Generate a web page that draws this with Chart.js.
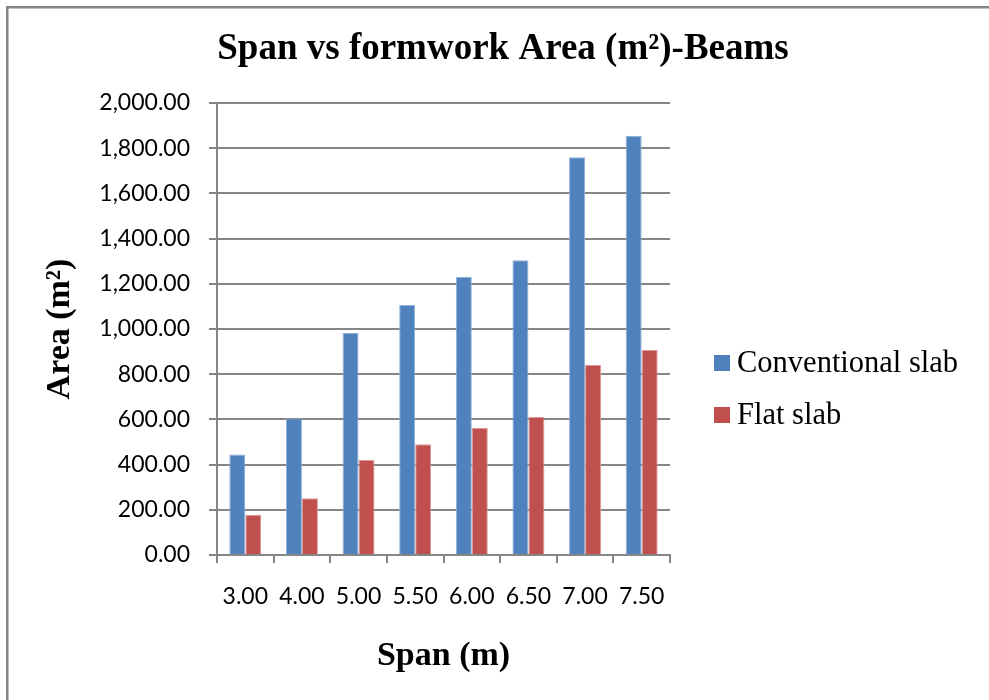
<!DOCTYPE html>
<html>
<head>
<meta charset="utf-8">
<title>Span vs formwork Area (m²)-Beams</title>
<script src="https://cdn.jsdelivr.net/npm/chart.js@4/dist/chart.umd.min.js"></script>
<style>
  html, body { margin: 0; padding: 0; background: #ffffff; }
  #wrap { position: relative; width: 989px; height: 700px; }
</style>
</head>
<body>
<div id="wrap"><canvas id="chart" width="989" height="700"></canvas></div>
<script>
// Spans (m) along the x axis
const spans = ['3.00', '4.00', '5.00', '5.50', '6.00', '6.50', '7.00', '7.50'];
// Formwork area of beams (m²) for each slab system
const conventionalSlab = [445, 604, 982, 1106, 1231, 1304, 1760, 1855];
const flatSlab = [178, 251, 422, 490, 562, 611, 841, 907];
const seriesNames = ['Conventional slab', 'Flat slab'];
const chartTitle = 'Span vs formwork Area (m²)-Beams';
const xTitle = 'Span (m)';
const yTitle = 'Area (m²)';
const yMin = 0, yMax = 2000, yStep = 200;

const GRID = '#868686';
const SERIF = '"Liberation Serif", "Times New Roman", serif';
const SANS = 'Lato, "Open Sans", sans-serif';

// Outer frame, heading and the legend at the right of the plot
const decorations = {
  id: 'decorations',
  beforeDraw(chart) {
    const ctx = chart.ctx;
    ctx.save();
    ctx.fillStyle = '#ffffff';
    ctx.fillRect(0, 0, chart.width, chart.height);
    ctx.fillStyle = GRID;
    ctx.fillRect(6, 6, chart.width - 6, 2.5);
    ctx.fillRect(6, 6, 2.5, chart.height - 6);
    ctx.restore();
  },
  afterDraw(chart) {
    const ctx = chart.ctx;
    ctx.save();
    ctx.fillStyle = '#000000';
    ctx.font = 'bold 37px ' + SERIF;
    ctx.textAlign = 'center';
    ctx.textBaseline = 'middle';
    ctx.fillText(chartTitle, 503, 49);

    ctx.font = '30.5px ' + SERIF;
    ctx.textAlign = 'left';
    chart.data.datasets.forEach((ds, i) => {
      const cy = 363 + i * 52;
      ctx.fillStyle = ds.backgroundColor;
      ctx.fillRect(714, cy - 8, 16, 16);
      ctx.fillStyle = '#000000';
      ctx.fillText(ds.label, 737, cy + 1);
    });
    ctx.restore();
  }
};

new Chart(document.getElementById('chart'), {
  type: 'bar',
  data: {
    labels: spans,
    datasets: [
      {
        label: seriesNames[0],
        data: conventionalSlab,
        backgroundColor: '#4F81BD',
        borderColor: '#8fb0d8',
        borderWidth: { top: 1, left: 1, right: 1, bottom: 0 }
      },
      {
        label: seriesNames[1],
        data: flatSlab,
        backgroundColor: '#C0504D',
        borderColor: '#dc9997',
        borderWidth: { top: 1, left: 1, right: 1, bottom: 0 }
      }
    ]
  },
  options: {
    responsive: false,
    animation: false,
    devicePixelRatio: 1,
    layout: { padding: { top: 103, left: 0, right: 319, bottom: 0 } },
    datasets: {
      bar: { categoryPercentage: 0.565, barPercentage: 1.0 }
    },
    plugins: {
      legend: { display: false },
      title: { display: false },
      tooltip: { enabled: false }
    },
    scales: {
      x: {
        offset: true,
        grid: {
          display: true,
          drawOnChartArea: false,
          drawTicks: true,
          tickLength: 8,
          offset: true,
          color: GRID,
          lineWidth: 2
        },
        border: { display: true, color: GRID, width: 2 },
        ticks: {
          color: '#000000',
          padding: 20,
          maxRotation: 0,
          autoSkip: false,
          font: { family: SANS, size: 23 }
        },
        title: {
          display: true,
          text: xTitle,
          color: '#000000',
          font: { family: SERIF, size: 34, weight: 'bold' },
          padding: { top: 0, bottom: 23 }
        },
        afterFit(scale) { scale.height = 145; }
      },
      y: {
        min: yMin,
        max: yMax,
        grid: {
          color: GRID,
          lineWidth: 2,
          tickLength: 8,
          drawTicks: true
        },
        border: { display: true, color: GRID, width: 2 },
        ticks: {
          stepSize: yStep,
          color: '#000000',
          padding: 19,
          font: { family: SANS, size: 23 },
          callback: (v) => Number(v).toLocaleString('en-US', { minimumFractionDigits: 2, maximumFractionDigits: 2 })
        },
        title: {
          display: true,
          text: yTitle,
          color: '#000000',
          font: { family: SERIF, size: 34, weight: 'bold' },
          padding: { top: 40, bottom: 0 }
        },
        afterFit(scale) { scale.width = 217; }
      }
    }
  },
  plugins: [decorations]
});
</script>
</body>
</html>
